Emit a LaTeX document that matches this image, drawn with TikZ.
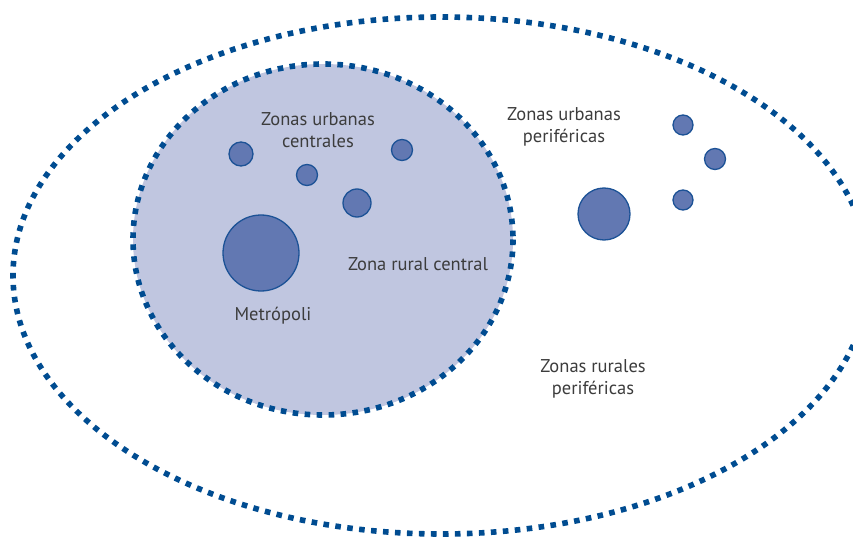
\documentclass[tikz,border=0pt]{standalone}
\usepackage{fontspec}
\setmainfont{PT Sans}

\definecolor{dotblue}{RGB}{0,76,145}
\definecolor{innerfill}{RGB}{192,198,224}
\definecolor{cityblue}{RGB}{98,120,178}
\definecolor{ringblue}{RGB}{28,82,150}
\definecolor{textgray}{RGB}{60,60,60}

\begin{document}
\begin{tikzpicture}[x=1pt,y=-1pt,
    zona/.style={draw=dotblue, line width=5.6pt, dash pattern=on 5.6pt off 6.4pt},
    ciudad/.style={circle, draw=ringblue, fill=cityblue, line width=1.3pt, inner sep=0pt},
    etiqueta/.style={text=textgray, align=center, font=\fontsize{18.5}{21.5}\selectfont}]

\useasboundingbox (0,0) rectangle (853,537);
\clip (0,0) rectangle (853,537);

% ===== Zonas (elipses punteadas) =====
\draw[zona] (441,275.5) ellipse [x radius=428, y radius=258.5];
\draw[zona, fill=innerfill] (323,239.5) ellipse [x radius=190, y radius=175.5];

% ===== Ciudades =====
\node[ciudad, minimum size=76pt] (metropoli) at (261,253) {};
\foreach \nombre/\x/\y/\r in {uc1/241/154/12, uc2/307/175/10.5, uc3/357/203/14, uc4/402/150/10.5,
    up1/604/214/26, up2/683/125/10, up3/715/159/10.5, up4/683/200/10} {
    \node[ciudad, minimum size={2*\r*1pt}] (\nombre) at (\x,\y) {};
}

% ===== Etiquetas =====
\node[etiqueta] (urbcen) at (318,130) {Zonas urbanas\\centrales};
\node[etiqueta, anchor=base] (metro) at (273,320) {Metrópoli};
\node[etiqueta] (rurcen) at (418,264) {Zona rural central};
\node[etiqueta] (urbper) at (564,127) {Zonas urbanas\\periféricas};
\node[etiqueta] (rurper) at (593,379) {Zonas rurales\\periféricas};

\end{tikzpicture}
\end{document}
